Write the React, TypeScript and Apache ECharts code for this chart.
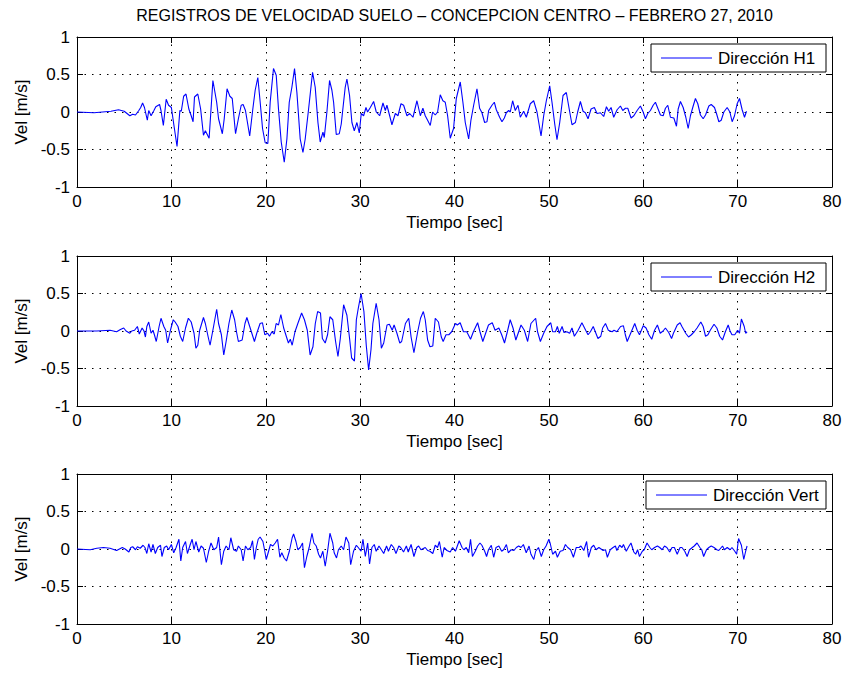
import React, { useEffect, useRef } from "react";
import * as echarts from "echarts";

// Ground velocity records, [time (s), velocity (m/s)]
const h1Trace: [number, number][] = [
  [0, 0], [1.8, -0.01], [3.6, 0.01], [4.4, 0.03], [5.0, 0.01], [5.6, -0.05], [5.9, -0.03], [6.2, -0.04],
  [6.55, 0.02], [6.75, 0.06], [6.95, 0.12], [7.15, 0.06], [7.45, -0.11], [7.6, 0.02], [7.85, -0.05],
  [8.15, 0.02], [8.35, 0.07], [8.75, 0.1], [8.9, 0.02], [9.15, -0.18], [9.45, 0.17], [9.7, 0.09],
  [10.0, 0.06], [10.25, -0.16], [10.6, -0.46], [10.9, 0.02], [11.05, 0.01], [11.3, 0.21], [11.55, 0.24],
  [11.85, 0.04], [12.1, -0.05], [12.3, -0.13], [12.45, 0.2], [12.8, 0.24], [13.1, 0.04], [13.4, -0.31],
  [13.6, -0.25], [14.0, -0.35], [14.4, 0.42], [14.8, 0.13], [15.0, -0.09], [15.4, -0.29], [15.6, -0.09],
  [15.9, 0.31], [16.2, 0.21], [16.45, 0.18], [16.8, -0.29], [17.1, -0.09], [17.4, 0.09], [17.6, 0.1],
  [17.85, 0.02], [18.3, -0.32], [18.63, 0.04], [18.88, 0.29], [19.16, 0.46], [19.41, 0.13], [19.66, -0.22],
  [19.94, -0.41], [20.22, -0.42], [20.47, 0.13], [20.82, 0.58], [21.11, 0.49], [21.35, 0.04], [21.64, -0.4],
  [21.96, -0.67], [22.24, -0.36], [22.49, 0.13], [22.77, 0.33], [23.05, 0.58], [23.3, 0.26], [23.65, -0.36],
  [23.94, -0.54], [24.18, -0.36], [24.54, 0.04], [24.96, 0.53], [25.24, 0.33], [25.53, -0.14], [25.77, -0.4],
  [26.06, -0.27], [26.2, -0.34], [26.48, 0], [26.76, 0.42], [27.01, 0.29], [27.19, 0.13], [27.47, -0.3],
  [27.79, -0.29], [28.0, -0.16], [28.42, 0.33], [28.6, 0.44], [28.88, 0.22], [29.13, -0.14], [29.38, -0.25],
  [29.66, -0.14], [29.91, -0.28], [30.12, -0.02], [30.37, -0.05], [30.62, 0.06], [30.79, 0], [31.08, 0.06],
  [31.43, 0.14], [31.71, 0], [32.07, -0.05], [32.42, 0.12], [32.67, 0.02], [32.84, 0.09], [33.13, -0.05],
  [33.37, -0.17], [33.73, -0.02], [34.01, -0.05], [34.33, 0.11], [34.61, 0.09], [34.96, -0.05], [35.25, -0.02],
  [35.6, -0.07], [36.02, 0.15], [36.38, -0.05], [36.65, 0.05], [36.9, -0.05], [37.15, -0.11], [37.43, -0.18],
  [37.68, 0], [37.96, -0.04], [38.21, 0], [38.49, 0.23], [38.77, 0.15], [39.02, 0.13], [39.27, -0.05],
  [39.55, -0.35], [39.9, -0.22], [40.19, 0.18], [40.61, 0.4], [40.89, 0.13], [41.14, -0.14], [41.5, -0.36],
  [41.74, -0.11], [42.03, 0.09], [42.38, 0.31], [42.66, 0.05], [42.91, -0.01], [43.19, -0.14], [43.44, -0.13],
  [43.62, 0.02], [43.97, 0.09], [44.22, 0.13], [44.43, 0.03], [44.78, -0.07], [45.03, -0.13], [45.28, -0.08],
  [45.49, -0.01], [45.74, 0.02], [45.91, 0], [46.16, 0.15], [46.44, 0.02], [46.73, 0.09], [46.97, -0.07],
  [47.33, 0.01], [47.61, -0.07], [48.03, 0.11], [48.39, 0.15], [48.74, 0], [49.17, -0.32], [49.45, -0.05],
  [49.73, 0.15], [50.09, 0.35], [50.33, 0.13], [50.62, -0.16], [50.86, -0.37], [51.15, -0.14], [51.5, 0.22],
  [51.85, 0.26], [52.21, 0], [52.45, -0.17], [52.81, -0.14], [53.05, 0], [53.34, 0.14], [53.62, 0.01],
  [53.87, -0.01], [54.15, -0.09], [54.47, 0.04], [54.82, 0.06], [55.1, -0.02], [55.46, -0.01], [55.81, -0.06],
  [56.1, 0.07], [56.34, 0.01], [56.59, 0.06], [56.87, -0.07], [57.23, 0.03], [57.58, 0.08], [57.83, 0.02],
  [58.11, 0.05], [58.36, 0.05], [58.71, -0.08], [59.0, -0.05], [59.35, 0.02], [59.7, 0.08], [59.99, 0],
  [60.23, -0.09], [60.48, -0.02], [60.76, 0.02], [61.05, 0.09], [61.29, 0.13], [61.54, 0.05], [61.82, -0.04],
  [62.11, -0.05], [62.35, 0.05], [62.6, 0.09], [62.88, -0.07], [63.24, -0.08], [63.52, -0.19], [63.7, 0.04],
  [63.94, 0.14], [64.23, 0.06], [64.51, -0.07], [64.76, -0.22], [65.0, -0.05], [65.29, 0.08], [65.53, 0.18],
  [65.78, 0.11], [66.06, -0.04], [66.35, -0.09], [66.6, -0.04], [66.95, 0.08], [67.2, 0.1], [67.55, 0.06],
  [67.76, -0.02], [68.01, -0.13], [68.26, -0.11], [68.54, 0], [68.89, 0.06], [69.18, 0], [69.42, -0.13],
  [69.67, -0.05], [69.95, 0.11], [70.2, 0.18], [70.48, 0.03], [70.73, -0.07], [70.94, 0.01],
];

const h2Trace: [number, number][] = [
  [0, 0], [2.1, 0], [3.5, 0.01], [4.2, -0.01], [4.6, 0.02], [4.95, 0.04], [5.2, 0], [5.6, -0.03], [5.8, 0],
  [6.1, 0.01], [6.4, 0.06], [6.6, -0.04], [6.9, 0.04], [7.1, 0], [7.25, -0.08], [7.4, 0.06], [7.6, 0.12],
  [7.85, -0.03], [8.05, 0.01], [8.2, -0.05], [8.4, -0.14], [8.7, 0.06], [8.9, 0.17], [9.2, 0.06], [9.4, 0.01],
  [9.6, -0.16], [9.9, 0.01], [10.2, 0.15], [10.4, 0.12], [10.7, 0.06], [10.95, -0.07], [11.2, -0.14],
  [11.5, 0.04], [11.8, 0.17], [12.1, 0.12], [12.4, -0.03], [12.6, -0.23], [12.8, -0.19], [13.0, 0.01],
  [13.4, 0.18], [13.6, 0.1], [13.9, -0.08], [14.1, -0.19], [14.5, 0.08], [14.8, 0.29], [15.0, 0.1],
  [15.3, -0.05], [15.55, -0.32], [15.8, -0.14], [16.1, 0.1], [16.4, 0.28], [16.7, 0.15], [16.9, -0.01],
  [17.1, -0.14], [17.5, -0.12], [17.8, 0.1], [18.0, 0.18], [18.3, 0.06], [18.8, -0.14], [19.05, -0.03],
  [19.4, 0.1], [19.65, 0.11], [19.9, -0.05], [20.2, -0.03], [20.4, -0.07], [20.65, -0.01], [20.9, -0.04],
  [21.1, 0.1], [21.35, 0.08], [21.6, 0.22], [21.9, 0.04], [22.2, -0.08], [22.4, -0.16], [22.6, -0.11],
  [22.8, -0.19], [23.1, -0.01], [23.4, 0.1], [23.8, 0.24], [24.1, 0.15], [24.4, 0.01], [24.7, -0.32],
  [25.0, -0.21], [25.25, 0.1], [25.5, 0.26], [25.8, 0.24], [26.0, -0.1], [26.3, -0.16], [26.55, -0.05],
  [26.8, 0.19], [27.1, 0.15], [27.4, -0.14], [27.65, -0.34], [27.9, -0.1], [28.25, 0.35], [28.6, 0.21],
  [28.9, -0.12], [29.1, -0.36], [29.4, -0.4], [29.6, 0.15], [29.8, 0.3], [30.1, 0.5], [30.4, 0.26],
  [30.65, -0.19], [30.9, -0.52], [31.15, -0.25], [31.35, 0.1], [31.7, 0.37], [32.0, 0.15], [32.25, -0.23],
  [32.5, -0.16], [32.85, 0.08], [33.1, 0.09], [33.4, 0.01], [33.6, 0.08], [33.9, -0.03], [34.2, -0.16],
  [34.4, -0.14], [34.8, 0.1], [35.15, 0.17], [35.4, -0.08], [35.7, -0.29], [36.1, -0.01], [36.4, 0.17],
  [36.7, 0.26], [36.9, 0.15], [37.15, -0.12], [37.4, -0.21], [37.7, -0.2], [37.96, 0.17], [38.3, 0.12],
  [38.6, -0.08], [38.8, -0.14], [39.1, -0.05], [39.4, -0.05], [39.7, -0.01], [40.1, 0.1], [40.3, 0.08],
  [40.6, 0.11], [40.95, -0.01], [41.3, -0.01], [41.7, -0.11], [42.0, -0.01], [42.45, 0.11], [42.7, -0.01],
  [43.0, -0.14], [43.3, -0.03], [43.6, 0.08], [44.0, 0.11], [44.3, 0.01], [44.7, 0.04], [45.0, -0.05],
  [45.3, -0.16], [45.6, -0.01], [45.9, 0.15], [46.2, 0.04], [46.5, -0.12], [46.8, -0.01], [47.05, 0.08],
  [47.4, 0.01], [47.75, -0.14], [48.1, 0.1], [48.6, 0.17], [48.8, -0.01], [49.1, -0.14], [49.45, -0.03],
  [49.8, 0.06], [50.2, 0.11], [50.4, -0.01], [50.7, -0.01], [50.9, 0.06], [51.1, -0.03], [51.4, 0.06],
  [51.6, -0.02], [51.9, -0.01], [52.2, -0.03], [52.45, 0.04], [52.7, -0.07], [53.1, 0.01], [53.5, 0.11],
  [53.9, 0.01], [54.15, -0.05], [54.4, -0.01], [54.7, 0.06], [55.2, -0.1], [55.5, -0.07], [55.7, 0.04],
  [56.0, 0.1], [56.3, 0.01], [56.7, -0.01], [56.9, 0.01], [57.2, -0.01], [57.6, 0.06], [57.9, 0.07],
  [58.1, -0.05], [58.3, -0.14], [58.6, -0.05], [59.1, 0.1], [59.35, 0.01], [59.6, -0.05], [60.0, 0.07],
  [60.3, 0.04], [60.6, -0.05], [60.9, -0.11], [61.2, 0.01], [61.5, 0.08], [61.8, -0.03], [62.1, 0],
  [62.35, 0.04], [62.7, -0.02], [63.0, -0.1], [63.2, -0.03], [63.6, 0.08], [63.9, 0.11], [64.1, 0.06],
  [64.5, -0.03], [64.8, -0.08], [65.1, -0.05], [65.4, -0.01], [65.7, 0.04], [66.1, 0.12], [66.35, 0.06],
  [66.6, -0.07], [66.85, -0.05], [67.1, 0.01], [67.5, 0.09], [67.8, 0.04], [68.1, -0.07], [68.4, -0.12],
  [68.7, -0.01], [69.0, 0.08], [69.2, 0], [69.4, -0.05], [69.7, -0.05], [70.0, 0.01], [70.2, -0.03],
  [70.4, 0.16], [70.7, 0.06], [70.85, -0.03], [71.0, -0.01],
];

const vertTrace: [number, number][] = [
  [0, 0], [1.4, -0.01], [2.1, 0.01], [2.8, 0.02], [3.5, 0.01], [4.2, -0.02], [4.8, 0.02], [5.1, 0],
  [5.5, -0.04], [5.7, 0.02], [5.9, 0.03], [6.2, -0.01], [6.4, 0.03], [6.7, 0.01], [7.0, 0.05], [7.2, 0.02],
  [7.4, -0.06], [7.6, 0.07], [7.85, -0.04], [8.05, 0.06], [8.3, -0.06], [8.55, 0.02], [8.85, 0.05],
  [9.0, -0.1], [9.25, 0.02], [9.5, 0.04], [9.7, -0.01], [10.0, 0.06], [10.25, -0.05], [10.5, 0.02],
  [10.8, 0.13], [11.0, -0.16], [11.2, 0.02], [11.5, 0.1], [11.7, -0.06], [12.0, 0.06], [12.2, 0.13],
  [12.4, -0.01], [12.6, 0.1], [12.9, -0.04], [13.15, 0.04], [13.4, 0.01], [13.7, -0.18], [13.95, -0.03],
  [14.2, 0.08], [14.5, -0.01], [14.8, 0.02], [15.0, 0.16], [15.3, -0.21], [15.55, -0.03], [15.8, 0.04],
  [16.1, -0.01], [16.3, 0.15], [16.6, -0.01], [16.9, -0.03], [17.1, 0.04], [17.4, -0.01], [17.6, -0.16],
  [17.85, 0.04], [18.1, -0.01], [18.4, 0.02], [18.6, 0.11], [18.8, -0.14], [19.0, 0.02], [19.2, 0.13],
  [19.4, 0.16], [19.7, 0.1], [19.9, -0.03], [20.05, -0.14], [20.3, -0.03], [20.5, 0.06], [20.75, 0.04],
  [21.0, 0.08], [21.25, 0.13], [21.5, -0.11], [21.7, -0.05], [21.95, -0.12], [22.2, -0.16], [22.5, -0.03],
  [22.8, 0.15], [22.95, 0.2], [23.2, 0.1], [23.4, -0.01], [23.65, 0.02], [23.9, 0.08], [24.1, -0.25],
  [24.35, -0.1], [24.6, 0.02], [24.9, 0.21], [25.1, 0.08], [25.35, 0.04], [25.6, -0.07], [25.8, -0.12],
  [26.05, -0.03], [26.3, -0.23], [26.55, -0.03], [26.8, 0.21], [27.1, 0.08], [27.25, -0.05], [27.5, -0.12],
  [27.7, -0.01], [28.0, 0.04], [28.25, -0.01], [28.5, 0.16], [28.8, 0.08], [29.0, -0.21], [29.3, -0.03],
  [29.6, 0.05], [29.8, 0.02], [30.1, -0.03], [30.3, 0.13], [30.55, -0.1], [30.8, 0.08], [31.0, -0.2],
  [31.25, 0.02], [31.5, 0.06], [31.7, -0.03], [32.0, 0.04], [32.25, -0.01], [32.5, -0.06], [32.8, 0.04],
  [33.0, -0.03], [33.3, 0.06], [33.55, 0.02], [33.8, -0.06], [34.1, 0.04], [34.3, 0.02], [34.6, -0.04],
  [34.9, 0.04], [35.1, -0.04], [35.4, 0.06], [35.7, -0.1], [36.0, 0.02], [36.2, 0.04], [36.45, -0.01],
  [36.9, 0.02], [37.15, -0.02], [37.4, -0.03], [37.7, -0.06], [37.96, 0.05], [38.2, 0.02], [38.4, 0.1],
  [38.7, -0.11], [38.9, 0.02], [39.2, -0.02], [39.55, -0.04], [39.8, 0.02], [40.1, -0.03], [40.3, 0.04],
  [40.5, 0.11], [40.8, 0.02], [41.0, -0.01], [41.25, 0.02], [41.5, -0.05], [41.7, 0.13], [41.9, -0.1],
  [42.2, -0.03], [42.45, 0.04], [42.7, 0.08], [42.9, 0.05], [43.2, -0.03], [43.4, -0.1], [43.6, -0.01],
  [43.9, 0.05], [44.15, -0.11], [44.4, 0.02], [44.7, 0.04], [45.0, -0.03], [45.2, -0.01], [45.5, 0.06],
  [45.7, -0.05], [46.0, -0.01], [46.3, -0.02], [46.55, 0.02], [46.8, 0.04], [47.05, 0.02], [47.3, 0.06],
  [47.6, -0.05], [47.9, 0.04], [48.1, -0.07], [48.4, -0.14], [48.6, -0.03], [48.9, 0.02], [49.2, -0.1],
  [49.45, -0.01], [49.7, 0.04], [50.0, 0.13], [50.15, 0.07], [50.4, -0.07], [50.7, -0.03], [50.9, -0.11],
  [51.2, -0.03], [51.5, -0.02], [51.75, 0.06], [52.0, 0.02], [52.3, -0.01], [52.6, -0.11], [52.9, 0.02],
  [53.2, 0.02], [53.4, 0.04], [53.7, -0.02], [54.0, 0.1], [54.2, -0.11], [54.5, 0.02], [54.75, 0.05],
  [55.0, -0.01], [55.3, 0.02], [55.75, -0.02], [56.0, -0.01], [56.2, -0.11], [56.5, -0.01], [56.8, 0.02],
  [57.05, 0.04], [57.2, -0.02], [57.5, 0.05], [57.75, 0.02], [57.9, 0.06], [58.2, -0.03], [58.5, 0.04],
  [58.7, 0.08], [59.0, -0.04], [59.2, -0.07], [59.4, -0.01], [59.6, -0.1], [59.9, -0.03], [60.1, -0.01],
  [60.4, 0.08], [60.7, 0.02], [60.9, -0.01], [61.2, 0.02], [61.5, 0.04], [61.75, 0.02], [62.0, -0.01],
  [62.25, 0.04], [62.5, 0.02], [62.8, -0.04], [63.05, 0.02], [63.3, 0.02], [63.6, -0.07], [63.9, 0.02],
  [64.1, 0.02], [64.4, -0.03], [64.65, -0.1], [64.9, -0.01], [65.2, 0.02], [65.4, 0.04], [65.7, 0.08],
  [66.0, 0.02], [66.2, -0.01], [66.4, -0.1], [66.7, -0.01], [66.95, 0.02], [67.2, 0.04], [67.5, 0.02],
  [67.8, -0.01], [68.0, -0.02], [68.4, 0.04], [68.6, -0.01], [68.9, 0.02], [69.2, -0.01], [69.4, 0.02],
  [69.7, -0.03], [69.9, -0.07], [70.1, 0.14], [70.4, 0.05], [70.65, -0.14], [70.85, -0.03], [71.0, 0.04],
];

const traces = [h1Trace, h2Trace, vertTrace];
const legendNames = ["Dirección H1", "Dirección H2", "Dirección Vert"];
const xTicks = { min: 0, max: 80, interval: 10 };
const yTicks = { min: -1, max: 1, interval: 0.5 };
const titleText = "REGISTROS DE VELOCIDAD SUELO – CONCEPCION CENTRO – FEBRERO 27, 2010";
const xName = "Tiempo [sec]";
const yName = "Vel [m/s]";

const FONT = "Liberation Sans, Arial, Helvetica, sans-serif";
const FS = 17;
const LEFT = 77;
const WIDTH = 755;
const HEIGHT = 150;
const TOPS = [37, 256, 474];
const LEGEND_W = [175, 175, 180];

export default function App() {
  const ref = useRef<HTMLDivElement>(null);

  useEffect(() => {
    if (!ref.current) return;
    const chart = echarts.init(ref.current, undefined, { renderer: "svg" });

    const dotted = { type: [1.5, 6] as number[], color: "#000", width: 1 };
    const tick = { inside: true, length: 6, lineStyle: { color: "#000", width: 1 } };
    const line = { show: true, onZero: false, lineStyle: { color: "#000", width: 1 } };
    const label = { color: "#000", fontSize: FS, fontFamily: FONT, fontWeight: "normal" };

    const grid = TOPS.map((top) => ({ left: LEFT, top, width: WIDTH, height: HEIGHT }));
    const xAxis: any[] = [];
    const yAxis: any[] = [];
    TOPS.forEach((_, i) => {
      xAxis.push({
        type: "value", gridIndex: i, position: "bottom", ...xTicks,
        axisLine: line, axisTick: tick,
        axisLabel: { ...label, margin: 6 },
        splitLine: { show: true, lineStyle: dotted },
        name: xName, nameLocation: "middle", nameGap: 27,
        nameTextStyle: label,
      });
      xAxis.push({
        type: "value", gridIndex: i, position: "top", ...xTicks,
        axisLine: line, axisTick: tick, axisLabel: { show: false }, splitLine: { show: false },
      });
      yAxis.push({
        type: "value", gridIndex: i, position: "left", ...yTicks,
        axisLine: line, axisTick: tick,
        axisLabel: { ...label, margin: 7 },
        splitLine: { show: true, lineStyle: dotted },
        name: yName, nameLocation: "middle", nameGap: 47,
        nameTextStyle: label,
      });
      yAxis.push({
        type: "value", gridIndex: i, position: "right", ...yTicks,
        axisLine: line, axisTick: tick, axisLabel: { show: false }, splitLine: { show: false },
      });
    });

    const series = traces.map((trace, i) => ({
      type: "line", name: legendNames[i],
      xAxisIndex: i * 2, yAxisIndex: i * 2,
      data: trace, showSymbol: false, symbol: "none",
      lineStyle: { color: "#0000ff", width: 1.1 },
      silent: true,
    }));

    const graphic: any[] = [
      {
        type: "text", x: LEFT + WIDTH / 2, y: 15,
        style: {
          text: titleText, font: `16px ${FONT}`, fill: "#000",
          textAlign: "center", textVerticalAlign: "middle", align: "center", verticalAlign: "middle",
        },
      },
    ];
    TOPS.forEach((top, i) => {
      const w = LEGEND_W[i];
      const right = LEFT + WIDTH - 6;
      const x0 = right - w;
      const y0 = top + 7;
      const h = 28;
      graphic.push({
        type: "rect", shape: { x: x0, y: y0, width: w, height: h },
        style: { fill: "#fff", stroke: "#000", lineWidth: 1 }, z: 10,
      });
      graphic.push({
        type: "line", shape: { x1: x0 + 10, y1: y0 + h / 2, x2: x0 + 61, y2: y0 + h / 2 },
        style: { stroke: "#0000ff", lineWidth: 1 }, z: 11,
      });
      graphic.push({
        type: "text", x: x0 + 67, y: y0 + h / 2, z: 11,
        style: {
          text: legendNames[i], font: `${FS}px ${FONT}`, fill: "#000",
          textAlign: "left", textVerticalAlign: "middle", align: "left", verticalAlign: "middle",
        },
      });
    });

    chart.setOption({
      animation: false,
      backgroundColor: "#fff",
      grid, xAxis, yAxis, series, graphic,
    });
    return () => chart.dispose();
  }, []);

  return (
    <div
      ref={ref}
      style={{ position: "absolute", left: 0, top: 0, width: 846, height: 675 }}
    />
  );
}
